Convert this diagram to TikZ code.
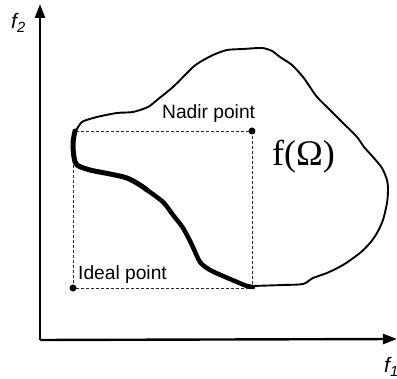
\documentclass[tikz,border=0pt]{standalone}
\usepackage{fontspec}
\setmainfont{Liberation Sans}
\newfontfamily\serifface{Liberation Serif}
\usetikzlibrary{arrows.meta}
\begin{document}
\begin{tikzpicture}[x=1pt,y=-1pt,
  axis/.style={line width=2.4pt,-{Triangle[length=14pt,width=10pt]}},
  boundary/.style={line width=1.9pt,line join=round,line cap=round},
  pareto/.style={line width=5pt,line join=round,line cap=round},
  guide/.style={line width=0.9pt,dash pattern=on 3pt off 2pt,black!85},
  dotnode/.style={circle,fill=black,inner sep=0pt,minimum size=7pt},
  lbl/.style={font=\fontsize{19.2}{21}\selectfont,inner sep=0pt},
  axlbl/.style={font=\fontsize{21}{23}\selectfont\itshape,inner sep=0pt}]
\useasboundingbox (0,0) rectangle (397,379);
% axes
\coordinate (O) at (40,340);
\coordinate (ytip) at (40,4);
\coordinate (xtip) at (397,339);
\draw[axis] (O) -- (ytip);
\draw[axis] (O) -- (xtip);
\node[axlbl,anchor=base west] (f2) at (11,29) {f\textsubscript{2}};
\node[axlbl,anchor=base west] (f1) at (384,373) {f\textsubscript{1}};
% points
\node[dotnode] (nadir) at (252,131) {};
\node[dotnode] (ideal) at (73,288) {};
\draw[guide] (ideal.center) |- (nadir.center);
\draw[guide] (nadir.center) |- (ideal.center);
% labels
\node[lbl,anchor=base west] (nadirlbl) at (162,119) {Nadir point};
\node[lbl,anchor=base west] (ideallbl) at (78,280) {Ideal point};
\node[anchor=base west,inner sep=0pt,font=\serifface\fontsize{36}{38}\selectfont] (fomega) at (272,166) {f(Ω)};
% outer boundary
\draw[boundary] plot[smooth,tension=0.45] coordinates {
(76,131) (82,122) (97,117) (117,113) (133,112) (148,107) (157,100) (173,87) (187,73) (193,67) (200,62)
(213,55) (227,50) (243,49) (262,48) (272,51) (280,57) (292,65) (303,77) (310,87) (317,97) (330,110)
(343,123) (357,137) (364,147) (373,157) (382,168) (387,180) (388,190) (387,203) (383,220) (377,233)
(370,243) (360,253) (343,265) (327,273) (313,278) (303,284) (283,285) (253,286)};
% pareto front
\draw[pareto] plot[smooth,tension=0.5] coordinates {
(75,131) (73,143) (74,157) (77,165) (90,170) (110,174) (127,178) (140,185) (147,190)};
\draw[line width=4.5pt,line join=round,line cap=round] plot[smooth,tension=0.5] coordinates {
(147,190) (163,202) (173,215) (183,228) (192,245) (200,262) (210,270) (223,276) (237,282) (247,286) (253,287)};
\end{tikzpicture}
\end{document}
